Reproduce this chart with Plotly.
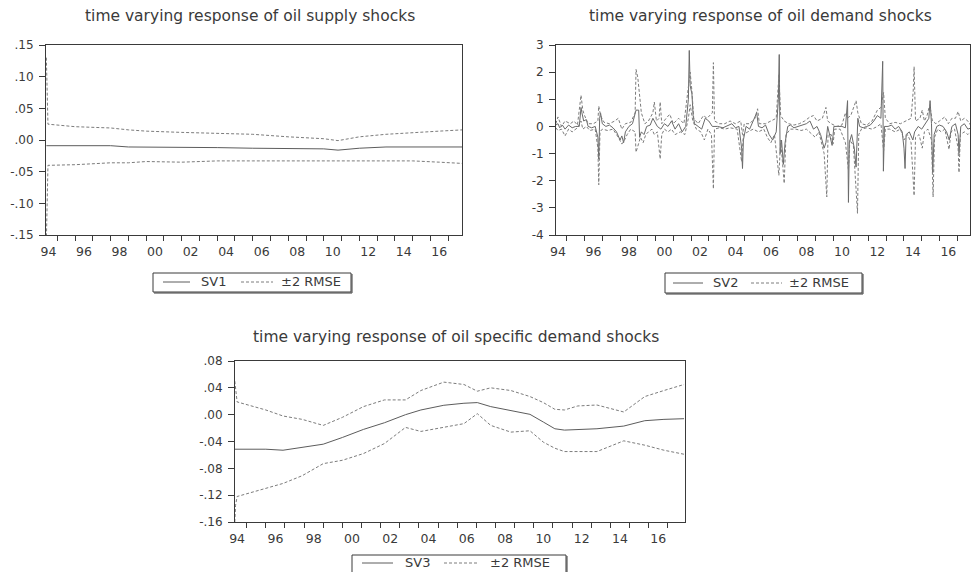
import plotly.graph_objects as go

# ---------------- data ----------------
# Panel 1: oil supply shocks
x1 = [1994.38, 1994.42, 1994.47, 1996.0, 1998.0, 1999.0, 2000.0, 2002.0, 2004.0, 2006.0,
      2008.0, 2010.0, 2010.8, 2012.0, 2013.5, 2015.0, 2016.5, 2017.8]
sv1 = [-0.009, -0.009, -0.009, -0.009, -0.009, -0.011, -0.011, -0.012, -0.012, -0.013,
       -0.013, -0.014, -0.016, -0.013, -0.011, -0.011, -0.011, -0.011]
up1 = [0.13, 0.06, 0.025, 0.021, 0.019, 0.016, 0.014, 0.012, 0.010, 0.009,
       0.005, 0.002, -0.001, 0.005, 0.009, 0.012, 0.014, 0.016]
lo1 = [-0.16, -0.09, -0.040, -0.039, -0.036, -0.036, -0.034, -0.035, -0.033, -0.033,
       -0.033, -0.032, -0.032, -0.032, -0.032, -0.033, -0.035, -0.037]

# Panel 2: oil demand shocks
x_sv2 = [1994.38, 1994.5, 1994.6, 1994.75, 1994.9, 1995.1, 1995.3, 1995.5, 1995.7, 1995.8,
         1995.85, 1995.95, 1996.1, 1996.2, 1996.4, 1996.6, 1996.75, 1996.8, 1996.85, 1996.9,
         1997.0, 1997.2, 1997.4, 1997.6, 1997.8, 1998.0, 1998.1, 1998.2, 1998.3, 1998.5,
         1998.7, 1998.85, 1998.9, 1999.05, 1999.1, 1999.2, 1999.35, 1999.5, 1999.7, 1999.85,
         1999.95, 2000.1, 2000.3, 2000.5, 2000.7, 2000.9, 2001.1, 2001.3, 2001.5, 2001.7,
         2001.85, 2001.9, 2001.95, 2002.05, 2002.12, 2002.2, 2002.4, 2002.6, 2002.8, 2003.0,
         2003.2, 2003.5, 2003.8, 2004.0, 2004.3, 2004.5, 2004.7, 2004.85, 2004.9, 2004.95,
         2005.1, 2005.3, 2005.5, 2005.7, 2005.8, 2006.0, 2006.2, 2006.4, 2006.6, 2006.8,
         2006.92, 2006.97, 2007.02, 2007.1, 2007.2, 2007.3, 2007.45, 2007.6, 2007.8, 2008.0,
         2008.2, 2008.5, 2008.7, 2008.9, 2009.1, 2009.3, 2009.5, 2009.6, 2009.7, 2009.85,
         2009.95, 2010.05, 2010.3, 2010.5, 2010.7, 2010.82, 2010.87, 2010.92, 2011.05, 2011.2,
         2011.3, 2011.4, 2011.5, 2011.7, 2011.9, 2012.1, 2012.3, 2012.5, 2012.7, 2012.8,
         2012.84, 2012.9, 2013.1, 2013.3, 2013.5, 2013.7, 2013.9, 2014.0, 2014.06, 2014.12,
         2014.3, 2014.5, 2014.6, 2014.8, 2015.0, 2015.2, 2015.4, 2015.47, 2015.55, 2015.62,
         2015.7, 2015.85, 2016.0, 2016.2, 2016.4, 2016.55, 2016.7, 2016.9, 2017.05, 2017.1,
         2017.2, 2017.4, 2017.6, 2017.8]
sv2 = [0.05, 0.1, -0.05, 0.05, -0.1, 0.05, -0.05, 0.0, 0.0, 0.7,
       0.5, 0.2, 0.25, 0.0, -0.05, 0.0, -0.4, -1.2, 0.3, 0.5,
       0.1, 0.0, 0.05, -0.05, -0.2, -0.5, -0.35, -0.6, -0.2, 0.0,
       0.1, 0.5, 0.6, 0.6, -0.4, -0.2, -0.3, 0.0, 0.05, 0.3,
       0.2, 0.0, -0.1, 0.1, 0.0, 0.2, -0.1, 0.1, -0.2, 0.0,
       1.0, 2.8, 1.5, 1.2, 0.4, 0.1, 0.0, -0.1, 0.3, 0.2,
       0.0, 0.0, -0.05, 0.0, 0.1, -0.05, 0.0, -0.8, -1.55, -0.5,
       0.0, -0.1, 0.2, 0.5, 0.0, -0.05, 0.05, -0.3, -0.5, -0.2,
       1.0, 2.65, -1.0, -0.5, -1.4, -0.6, 0.0, 0.05, -0.05, 0.0,
       0.05, 0.1, 0.2, -0.1, 0.0, -0.3, -0.8, -0.6, 0.0, -0.5,
       -0.7, 0.0, 0.0, 0.0, -0.05, 0.95, -2.8, -0.6, -0.3, -0.8,
       -1.5, 0.3, 0.0, -0.05, 0.0, 0.05, 0.2, 0.4, 0.3, 2.4,
       -1.65, 0.0, 0.0, 0.05, -0.1, 0.0, -0.2, -0.8, -1.55, -0.3,
       -0.2, -0.5, -0.2, 0.0, -0.1, 0.1, 0.3, 0.95, 0.1, -1.7,
       -0.3, 0.0, 0.05, 0.0, -0.2, -0.5, 0.0, 0.1, -0.3, -1.0,
       0.0, 0.1, -0.1, -0.05]

x_up2 = [1994.38, 1994.5, 1994.7, 1994.9, 1995.2, 1995.4, 1995.6, 1995.8, 1995.9, 1996.0,
         1996.2, 1996.5, 1996.75, 1996.8, 1996.9, 1997.1, 1997.4, 1997.7, 1997.9, 1998.1,
         1998.3, 1998.6, 1998.85, 1998.9, 1999.0, 1999.1, 1999.2, 1999.4, 1999.6, 1999.85,
         1999.93, 2000.05, 2000.2, 2000.26, 2000.35, 2000.6, 2000.8, 2001.0, 2001.3, 2001.6,
         2001.85, 2001.95, 2002.05, 2002.15, 2002.4, 2002.7, 2002.9, 2003.2, 2003.26, 2003.32,
         2003.6, 2003.9, 2004.2, 2004.5, 2004.8, 2004.9, 2005.0, 2005.3, 2005.6, 2005.75,
         2005.85, 2006.2, 2006.5, 2006.8, 2006.95, 2007.05, 2007.25, 2007.5, 2007.8, 2008.1,
         2008.4, 2008.7, 2008.9, 2009.1, 2009.4, 2009.6, 2009.7, 2009.9, 2010.2, 2010.5,
         2010.7, 2010.8, 2011.0, 2011.3, 2011.4, 2011.6, 2011.9, 2012.2, 2012.5, 2012.7,
         2012.85, 2012.95, 2013.2, 2013.5, 2013.8, 2014.1, 2014.4, 2014.52, 2014.57, 2014.65,
         2014.9, 2015.03, 2015.15, 2015.3, 2015.45, 2015.6, 2015.8, 2016.0, 2016.3, 2016.5,
         2016.7, 2016.9, 2017.05, 2017.2, 2017.4, 2017.6, 2017.8]
up2 = [0.1, 0.35, 0.0, 0.2, 0.1, 0.2, 0.05, 1.15, 0.6, 0.4,
       0.1, 0.1, 0.2, 0.75, 0.4, 0.15, 0.1, 0.2, 0.3, -0.1,
       0.1, 0.15, 0.5, 2.1, 1.8, 1.2, 0.5, 0.1, 0.2, 0.5,
       0.9, 0.2, 0.3, 0.9, 0.1, 0.3, 0.45, 0.1, 0.3, 0.1,
       1.5, 2.0, 1.3, 0.3, 0.1, 0.4, 0.3, 0.5, 2.35, 0.2,
       0.1, 0.1, 0.2, 0.1, 0.2, -0.3, 0.1, 0.1, 0.3, 0.65,
       0.1, 0.1, 0.2, 0.3, 1.9, 0.4, 0.2, 0.1, 0.05, 0.1,
       0.2, 0.35, 0.4, 0.2, 0.3, 0.7, 0.2, 0.1, 0.0, 0.05,
       0.5, 0.3, 0.4, 0.95, 0.5, 0.1, 0.05, 0.2, 0.6, 0.7,
       1.25, 0.3, 0.1, 0.15, 0.1, 0.2, 0.3, 1.3, 2.2, 0.2,
       0.3, 0.6, 0.2, 0.4, 0.8, 0.2, 0.1, 0.2, 0.35, 0.1,
       0.3, 0.3, 0.55, 0.2, 0.3, 0.2, 0.0]

x_lo2 = [1994.38, 1994.5, 1994.7, 1994.9, 1995.1, 1995.3, 1995.6, 1995.8, 1995.9, 1996.1,
         1996.3, 1996.6, 1996.75, 1996.8, 1996.87, 1997.0, 1997.3, 1997.6, 1997.9, 1998.1,
         1998.25, 1998.4, 1998.6, 1998.85, 1998.9, 1999.0, 1999.15, 1999.3, 1999.45, 1999.6,
         1999.8, 1999.93, 2000.1, 2000.26, 2000.35, 2000.5, 2000.7, 2000.9, 2001.1, 2001.4,
         2001.65, 2001.85, 2001.95, 2002.1, 2002.3, 2002.55, 2002.75, 2002.95, 2003.15, 2003.26,
         2003.32, 2003.6, 2003.9, 2004.2, 2004.6, 2004.85, 2004.95, 2005.2, 2005.5, 2005.8,
         2006.1, 2006.3, 2006.5, 2006.7, 2006.95, 2007.05, 2007.25, 2007.35, 2007.6, 2007.9,
         2008.2, 2008.5, 2008.8, 2009.0, 2009.2, 2009.5, 2009.65, 2009.72, 2009.9, 2010.0,
         2010.1, 2010.4, 2010.7, 2010.87, 2010.95, 2011.15, 2011.38, 2011.45, 2011.6, 2011.9,
         2012.2, 2012.5, 2012.7, 2012.85, 2012.95, 2013.2, 2013.5, 2013.8, 2014.0, 2014.2,
         2014.4, 2014.57, 2014.65, 2014.85, 2015.03, 2015.15, 2015.35, 2015.55, 2015.64, 2015.72,
         2015.9, 2016.1, 2016.3, 2016.54, 2016.65, 2016.85, 2017.05, 2017.1, 2017.18, 2017.4,
         2017.6, 2017.8]
lo2 = [-0.05, -0.15, -0.1, -0.35, -0.1, -0.2, -0.05, 0.2, -0.1, 0.0,
       -0.15, -0.1, -0.8, -2.15, -0.2, -0.1, -0.15, -0.1, -0.4, -0.65,
       -0.5, -0.3, -0.1, -0.2, -0.95, -0.7, -0.4, -0.6, -0.3, -0.2,
       -0.1, -0.3, -0.2, -1.2, -0.3, -0.1, -0.2, -0.1, -0.3, -0.2,
       -0.3, 0.3, 0.8, 0.2, -0.1, -0.2, -0.5, -0.1, -0.3, -2.3,
       -0.1, -0.05, -0.1, -0.05, -0.1, -1.3, -0.3, -0.2, -0.1, -0.2,
       -0.1, -0.4, -0.6, -0.3, -1.8, -0.5, -2.1, -0.3, -0.1, -0.1,
       -0.15, -0.1, -0.3, -0.4, -0.2, -1.0, -2.6, -0.3, -0.3, -0.65,
       -0.1, -0.1, -0.6, -1.6, -0.5, -0.7, -3.2, -0.3, -0.1, -0.05,
       -0.1, 0.0, 0.1, -0.9, -0.1, -0.1, -0.2, -0.1, -0.5, -0.3,
       -0.6, -2.55, -0.4, -0.3, -0.8, -0.2, -0.1, -0.5, -2.6, -0.4,
       -0.1, -0.2, -0.1, -0.85, -0.2, -0.1, -0.8, -1.7, -0.3, -0.2,
       -0.3, -0.15]

# Panel 3: oil specific demand shocks
x3 = [1994.38, 1994.42, 1994.5, 1996.0, 1996.9, 1997.9, 1999.0, 2000.0, 2001.1, 2002.2,
      2003.3, 2004.1, 2005.3, 2006.35, 2007.05, 2007.75, 2008.8, 2009.8, 2010.5, 2011.1,
      2011.6, 2012.3, 2013.3, 2014.7, 2015.8, 2016.8, 2017.85]
sv3 = [-0.0515, -0.0515, -0.0515, -0.0515, -0.053, -0.049, -0.044, -0.034, -0.022, -0.012,
       0.000, 0.007, 0.014, 0.017, 0.018, 0.012, 0.006, 0.0005, -0.011, -0.021,
       -0.023, -0.022, -0.021, -0.017, -0.009, -0.007, -0.006]
up3 = [0.05, 0.035, 0.019, 0.007, -0.002, -0.007, -0.016, -0.004, 0.012, 0.022,
       0.022, 0.036, 0.0485, 0.045, 0.035, 0.040, 0.036, 0.027, 0.018, 0.008,
       0.007, 0.013, 0.0144, 0.004, 0.027, 0.036, 0.045]
lo3 = [-0.16, -0.135, -0.122, -0.110, -0.1025, -0.091, -0.073, -0.068, -0.058, -0.043,
       -0.019, -0.025, -0.019, -0.0134, 0.0015, -0.016, -0.026, -0.024, -0.041, -0.050,
       -0.055, -0.055, -0.055, -0.039, -0.0455, -0.053, -0.059]

label_years = [1994, 1996, 1998, 2000, 2002, 2004, 2006, 2008, 2010, 2012, 2014, 2016]
label_text = ["94", "96", "98", "00", "02", "04", "06", "08", "10", "12", "14", "16"]
minor_years = list(range(1995, 2018))

y1_ticks = [-0.15, -0.10, -0.05, 0.0, 0.05, 0.10, 0.15]
y1_text = ["-.15", "-.10", "-.05", ".00", ".05", ".10", ".15"]
y2_ticks = [-4, -3, -2, -1, 0, 1, 2, 3]
y2_text = ["-4", "-3", "-2", "-1", "0", "1", "2", "3"]
y3_ticks = [-0.16, -0.12, -0.08, -0.04, 0.0, 0.04, 0.08]
y3_text = ["-.16", "-.12", "-.08", "-.04", ".00", ".04", ".08"]

titles = ["time varying response of oil supply shocks",
          "time varying response of oil demand shocks",
          "time varying response of oil specific demand shocks"]
series_names = ["SV1", "SV2", "SV3"]
band_name = "±2 RMSE"

# ---------------- figure ----------------
W, H = 972, 572
FONT = "DejaVu Sans"
SOLID = "#5c5c5c"
SOLID2 = "#6a6a6a"
DASHC = "#7c7c7c"
AXC = "#3a3a3a"
TXT = "#3a3a3a"
DASH = "3px,2px"


def fx(p):
    return p / W


def fy(p):
    return 1 - p / H


fig = go.Figure()

panels = [
    dict(sx=x1, s=sv1, ux=x1, u=up1, lx=x1, l=lo1, c=SOLID),
    dict(sx=x_sv2, s=sv2, ux=x_up2, u=up2, lx=x_lo2, l=lo2, c=SOLID2),
    dict(sx=x3, s=sv3, ux=x3, u=up3, lx=x3, l=lo3, c=SOLID),
]

for i, p in enumerate(panels):
    n = i + 1
    xa = "x" if n == 1 else f"x{n}"
    ya = "y" if n == 1 else f"y{n}"
    fig.add_trace(go.Scatter(x=p["sx"], y=p["s"], mode="lines", name=series_names[i],
                             line=dict(color=p["c"], width=1), xaxis=xa, yaxis=ya,
                             showlegend=False))
    fig.add_trace(go.Scatter(x=p["ux"], y=p["u"], mode="lines", name=band_name,
                             line=dict(color=DASHC, width=1, dash=DASH),
                             xaxis=xa, yaxis=ya, showlegend=False))
    fig.add_trace(go.Scatter(x=p["lx"], y=p["l"], mode="lines", name=band_name,
                             line=dict(color=DASHC, width=1, dash=DASH),
                             xaxis=xa, yaxis=ya, showlegend=False))

# pixel geometry of the three plot areas
geo = [
    dict(x0=46, x1=462, y0=45, y1=235, xr=[1994.36, 2017.78], yr=[-0.15, 0.15],
         yt=y1_ticks, ytt=y1_text),
    dict(x0=556, x1=970, y0=45, y1=235, xr=[1994.39, 2017.72], yr=[-4, 3],
         yt=y2_ticks, ytt=y2_text),
    dict(x0=235, x1=685, y0=361, y1=522, xr=[1994.39, 2017.9], yr=[-0.16, 0.08],
         yt=y3_ticks, ytt=y3_text),
]

layout = dict(
    width=W, height=H, margin=dict(l=0, r=0, t=0, b=0, autoexpand=False),
    paper_bgcolor="white", plot_bgcolor="white",
    font=dict(family=FONT, size=11, color=TXT),
    showlegend=False,
)

for i, g in enumerate(geo):
    n = i + 1
    xk = "xaxis" if n == 1 else f"xaxis{n}"
    yk = "yaxis" if n == 1 else f"yaxis{n}"
    xa_anchor = "y" if n == 1 else f"y{n}"
    ya_anchor = "x" if n == 1 else f"x{n}"
    layout[xk] = dict(
        domain=[fx(g["x0"]), fx(g["x1"])], anchor=xa_anchor, range=g["xr"],
        tickmode="array", tickvals=[y + 0.5 for y in label_years], ticktext=label_text,
        ticks="outside", ticklen=5, tickcolor="rgba(0,0,0,0)",
        showgrid=False, zeroline=False, automargin=False,
        showline=True, mirror=True, linecolor=AXC, linewidth=1,
        tickfont=dict(family=FONT, size=12.5, color=TXT),
        minor=dict(tickmode="array", tickvals=minor_years, ticks="outside",
                   ticklen=5, tickcolor=AXC, tickwidth=1, showgrid=False),
    )
    layout[yk] = dict(
        domain=[fy(g["y1"]), fy(g["y0"])], anchor=ya_anchor, range=g["yr"],
        tickmode="array", tickvals=g["yt"], ticktext=g["ytt"],
        ticks="outside", ticklen=6, tickcolor=AXC, showgrid=False, zeroline=False,
        automargin=False, ticklabelstandoff=3,
        showline=True, mirror=True, linecolor=AXC, linewidth=1,
        tickfont=dict(family=FONT, size=12, color=TXT),
    )

fig.update_layout(**layout)

# titles
title_pos = [(250, 16), (760, 16), (456, 337)]
for t, (px, py) in zip(titles, title_pos):
    fig.add_annotation(text=t, x=fx(px), y=fy(py), xref="paper", yref="paper",
                       showarrow=False, xanchor="center", yanchor="middle",
                       font=dict(family=FONT, size=15.5, color=TXT))

# legend boxes (EViews style: framed, with line samples)
legends = [
    dict(bx0=153, bx1=351, by0=273, by1=292, ly=282, s0=163, s1=190, t1=213,
         d0=241, d1=273, t2=311),
    dict(bx0=665, bx1=862, by0=273, by1=293, ly=283, s0=673, s1=703, t1=725,
         d0=751, d1=782, t2=819),
    dict(bx0=352, bx1=566, by0=555, by1=577, ly=563, s0=362, s1=393, t1=417,
         d0=444, d1=477, t2=520),
]
for i, L in enumerate(legends):
    fig.add_shape(type="rect", xref="paper", yref="paper",
                  x0=fx(L["bx0"]), x1=fx(L["bx1"]), y0=fy(L["by1"]), y1=fy(L["by0"]),
                  line=dict(color=AXC, width=1), fillcolor="white", layer="above")
    # shadow edges (right and bottom)
    fig.add_shape(type="line", xref="paper", yref="paper",
                  x0=fx(L["bx1"] + 1), x1=fx(L["bx1"] + 1),
                  y0=fy(L["by1"] + 1), y1=fy(L["by0"] + 1),
                  line=dict(color=AXC, width=1))
    fig.add_shape(type="line", xref="paper", yref="paper",
                  x0=fx(L["bx0"] + 1), x1=fx(L["bx1"] + 1),
                  y0=fy(L["by1"] + 1), y1=fy(L["by1"] + 1),
                  line=dict(color=AXC, width=1))
    fig.add_shape(type="line", xref="paper", yref="paper",
                  x0=fx(L["s0"]), x1=fx(L["s1"]), y0=fy(L["ly"]), y1=fy(L["ly"]),
                  line=dict(color=SOLID, width=1))
    fig.add_shape(type="line", xref="paper", yref="paper",
                  x0=fx(L["d0"]), x1=fx(L["d1"]), y0=fy(L["ly"]), y1=fy(L["ly"]),
                  line=dict(color=DASHC, width=1, dash=DASH))
    fig.add_annotation(text=series_names[i], x=fx(L["t1"]), y=fy(L["ly"] - 1),
                       xref="paper", yref="paper", showarrow=False,
                       xanchor="center", yanchor="middle",
                       font=dict(family=FONT, size=13, color=TXT))
    fig.add_annotation(text=band_name, x=fx(L["t2"]), y=fy(L["ly"] - 1),
                       xref="paper", yref="paper", showarrow=False,
                       xanchor="center", yanchor="middle",
                       font=dict(family=FONT, size=13, color=TXT))

fig.write_html("out.html", config={"displayModeBar": False},
               post_script="document.body.style.margin='0px';")
